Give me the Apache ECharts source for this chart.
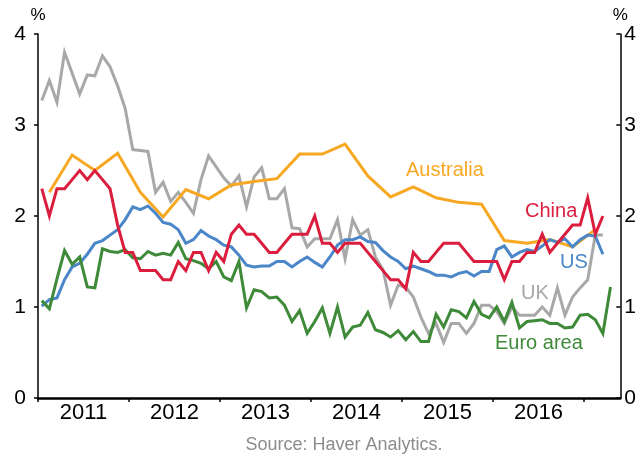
<!DOCTYPE html>
<html>
<head>
<meta charset="utf-8">
<script src="https://cdn.jsdelivr.net/npm/echarts@6/dist/echarts.min.js"></script>
<style>
  html, body { margin: 0; padding: 0; background: #fff; }
  #chart { width: 639px; height: 457px; }
</style>
</head>
<body>
<div id="chart"></div>
<script>
// monthly series, first point = Jan 2011 (per cent)
var firstYear = 2011;
var china = [2.3, 2.0, 2.3, 2.3, 2.4, 2.5, 2.4, 2.5, 2.4, 2.3, 1.9, 1.6, 1.6, 1.4, 1.4, 1.4, 1.3, 1.3, 1.5, 1.4,
  1.6, 1.6, 1.4, 1.6, 1.5, 1.8, 1.9, 1.8, 1.8, 1.7, 1.6, 1.6, 1.7, 1.8, 1.8, 1.8, 2.0, 1.7, 1.7, 1.6,
  1.7, 1.7, 1.7, 1.6, 1.5, 1.4, 1.3, 1.3, 1.2, 1.6, 1.5, 1.5, 1.6, 1.7, 1.7, 1.7, 1.6, 1.5, 1.5, 1.5,
  1.5, 1.3, 1.5, 1.5, 1.6, 1.6, 1.8, 1.6, 1.7, 1.8, 1.9, 1.9, 2.2, 1.8, 2.0];
var us = [1.01, 1.08, 1.10, 1.30, 1.44, 1.48, 1.58, 1.70, 1.73, 1.79, 1.85, 1.96, 2.10, 2.07, 2.11, 2.03, 1.93, 1.91, 1.85, 1.70,
  1.74, 1.84, 1.78, 1.74, 1.68, 1.66, 1.57, 1.46, 1.44, 1.45, 1.45, 1.50, 1.50, 1.44, 1.50, 1.55, 1.49, 1.44, 1.55, 1.68,
  1.74, 1.74, 1.77, 1.72, 1.71, 1.62, 1.55, 1.50, 1.42, 1.45, 1.42, 1.39, 1.35, 1.35, 1.33, 1.37, 1.39, 1.34, 1.39, 1.39,
  1.63, 1.67, 1.55, 1.60, 1.63, 1.61, 1.67, 1.74, 1.71, 1.75, 1.66, 1.74, 1.79, 1.78, 1.58];
var uk = [3.27, 3.49, 3.25, 3.80, 3.57, 3.34, 3.55, 3.54, 3.76, 3.64, 3.43, 3.18, 2.73, 2.72, 2.71, 2.26, 2.37, 2.16, 2.26, 2.15,
  2.03, 2.40, 2.66, 2.54, 2.42, 2.33, 2.44, 2.10, 2.43, 2.53, 2.19, 2.19, 2.30, 1.87, 1.86, 1.66, 1.75, 1.75, 1.75, 1.96,
  1.53, 1.96, 1.79, 1.85, 1.55, 1.41, 1.02, 1.24, 1.22, 1.11, 0.89, 0.71, 0.82, 0.61, 0.82, 0.82, 0.71, 0.82, 1.02, 1.02,
  0.95, 0.82, 1.00, 0.91, 0.91, 0.91, 1.00, 0.91, 1.21, 0.91, 1.11, 1.21, 1.30, 1.79, 1.79];
var euroArea = [1.07, 0.98, 1.31, 1.62, 1.47, 1.55, 1.22, 1.21, 1.64, 1.61, 1.60, 1.63, 1.54, 1.53, 1.61, 1.57, 1.59, 1.57, 1.71, 1.53,
  1.51, 1.48, 1.42, 1.50, 1.33, 1.29, 1.50, 0.99, 1.19, 1.17, 1.10, 1.11, 1.02, 0.84, 0.96, 0.71, 0.84, 0.99, 0.71, 1.00,
  0.67, 0.78, 0.80, 0.94, 0.75, 0.72, 0.67, 0.74, 0.64, 0.73, 0.62, 0.62, 0.92, 0.78, 0.97, 0.95, 0.88, 1.06, 0.92, 0.88,
  1.00, 0.84, 1.05, 0.77, 0.84, 0.85, 0.86, 0.82, 0.82, 0.77, 0.78, 0.91, 0.92, 0.86, 0.71, 1.22];
// quarterly series, first point = Q1 2011 (plotted mid-quarter)
var australia = [2.26, 2.67, 2.50, 2.69, 2.26, 1.99, 2.29, 2.19, 2.34, 2.38, 2.41, 2.68, 2.68, 2.79, 2.44, 2.21, 2.32, 2.20,
  2.15, 2.13, 1.73, 1.70, 1.74, 1.66, 1.85];
var yearTicks = [2011, 2012, 2013, 2014, 2015, 2016, 2017];
var yearLabels = [2011, 2012, 2013, 2014, 2015, 2016];

function monthly(arr) {
  return arr.map(function (v, m) { return [firstYear + (m + 0.5) / 12, v]; });
}
function quarterly(arr) {
  return arr.map(function (v, q) { return [firstYear + (3 * q + 1.5) / 12, v]; });
}

var font = '"Liberation Sans", Arial, sans-serif';
var cOrange = '#f7a823', cRed = '#dc1e3e', cBlue = '#4a86c8', cGrey = '#a8a8a8', cGreen = '#3e8a39';

function line(name, data, color) {
  return {
    name: name, type: 'line', data: data, showSymbol: false, symbol: 'none',
    lineStyle: { color: color, width: 3, join: 'miter' }, itemStyle: { color: color },
    animation: false, silent: true
  };
}

function yAxis(pos) {
  var right = pos === 'right';
  return {
    type: 'value', position: pos, min: 0, max: 4, interval: 1,
    name: '%', nameLocation: 'end', nameGap: 8,
    nameTextStyle: { color: '#000', fontSize: 17, fontFamily: font, align: 'center', verticalAlign: 'bottom' },
    axisLine: { show: true, lineStyle: { color: '#000', width: 1.5 } },
    axisTick: { show: true, inside: right, length: 4, lineStyle: { color: '#000', width: 1.5 } },
    axisLabel: { color: '#000', fontSize: 21, fontFamily: font, margin: right ? 4 : 12 },
    splitLine: { show: false }
  };
}

var chart = echarts.init(document.getElementById('chart'));
chart.setOption({
  backgroundColor: '#fff',
  animation: false,
  grid: { left: 38, right: 17, top: 34, bottom: 59, containLabel: false },
  xAxis: {
    type: 'value', min: 2011, max: 2017.4, interval: 1,
    axisLine: { show: true, onZero: false, lineStyle: { color: '#000', width: 2.5 } },
    axisTick: { show: true, length: 4, customValues: yearTicks, lineStyle: { color: '#000', width: 1.5 } },
    axisLabel: {
      color: '#000', fontSize: 22, fontFamily: font, margin: 4,
      customValues: yearLabels.map(function (y) { return y + 0.5; }),
      formatter: function (v) { return String(Math.floor(v)); }
    },
    splitLine: { show: false }
  },
  yAxis: [yAxis('left'), yAxis('right')],
  series: [
    line('UK', monthly(uk), cGrey),
    line('Australia', quarterly(australia), cOrange),
    line('US', monthly(us), cBlue),
    line('Euro area', monthly(euroArea), cGreen),
    line('China', monthly(china), cRed)
  ],
  graphic: [
    { type: 'text', x: 406, y: 170, style: { text: 'Australia', fill: cOrange, font: '20px ' + font, verticalAlign: 'middle' } },
    { type: 'text', x: 525, y: 211, style: { text: 'China', fill: cRed, font: '20px ' + font, verticalAlign: 'middle' } },
    { type: 'text', x: 560, y: 262, style: { text: 'US', fill: cBlue, font: '20px ' + font, verticalAlign: 'middle' } },
    { type: 'text', x: 521, y: 293, style: { text: 'UK', fill: cGrey, font: '20px ' + font, verticalAlign: 'middle' } },
    { type: 'text', x: 495, y: 343, style: { text: 'Euro area', fill: cGreen, font: '20px ' + font, verticalAlign: 'middle' } },
    { type: 'text', x: 344, y: 445, style: { text: 'Source: Haver Analytics.', fill: '#8c8c8c', font: '18px ' + font, align: 'center', verticalAlign: 'middle' } }
  ]
});
</script>
</body>
</html>
